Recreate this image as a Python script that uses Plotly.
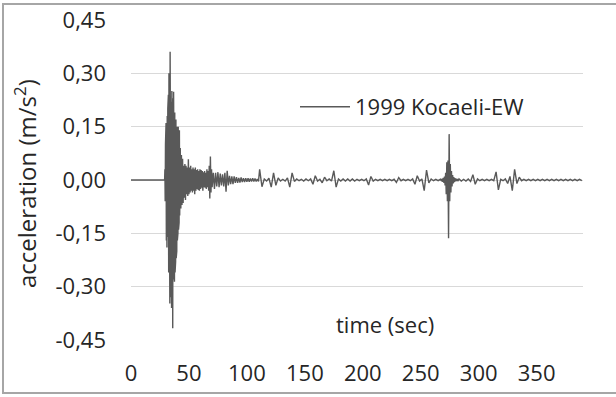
import numpy as np
import plotly.graph_objects as go

# ---------------- data ----------------
series_name = "1999 Kocaeli-EW"

# quiet pre-event record
t_pre = [0.0, 29.0]
a_pre = [0.0, 0.0]

# strong motion, dt = 0.25 s starting at 29.25 s
t0_strong, dt_strong = 29.25, 0.25
a_strong = [0.03, -0.06, 0.10, -0.14, 0.16, -0.17, 0.14, -0.19, 0.18, -0.16,
            0.20, -0.22, 0.24, -0.26, 0.30, -0.28, 0.26, -0.347, 0.361, -0.30,
            0.27, -0.33, 0.22, -0.36, 0.25, -0.30, 0.21, -0.417, 0.23, -0.28,
            0.248, -0.26, 0.20, -0.286, 0.19, -0.26, 0.19, -0.23, 0.17, -0.22,
            0.16, -0.20, 0.15, -0.17, 0.14, -0.15, 0.15, -0.14, 0.13, -0.12,
            0.14, -0.10]

# coda, dt = 0.5 s starting at 42.5 s
t0_coda, dt_coda = 42.5, 0.5
a_coda = [0.09, -0.08, 0.07, -0.07, 0.06, -0.065, 0.04, -0.05, 0.045, -0.056,
          0.04, -0.04, 0.035, -0.045, 0.058, -0.04, 0.035, -0.035, 0.04, -0.03,
          0.03, -0.035, 0.035, -0.03, 0.03, -0.04, 0.035, -0.03, 0.028, -0.025,
          0.03, -0.028, 0.025, -0.03, 0.03, -0.025, 0.028, -0.022, 0.025, -0.03,
          0.022, -0.02, 0.025, -0.022, 0.02, -0.025, 0.03, -0.02, 0.025, -0.03,
          0.04, -0.052, 0.066, -0.035, 0.03, -0.02]

# late coda, dt = 1 s starting at 71 s
t0_late, dt_late = 71.0, 1.0
a_late = [0.02, -0.025, 0.02, -0.018, 0.022, -0.02, 0.018, -0.015, 0.016, -0.018,
          0.02, -0.033, 0.026, -0.015, 0.012, -0.012, 0.01, -0.012, 0.01, -0.008,
          0.008, -0.008, 0.006, -0.007, 0.007, -0.006, 0.005, -0.006, 0.005, -0.005,
          0.005, -0.005, 0.004, -0.004, 0.005, -0.004, 0.004, -0.004, 0.003, -0.004]

# aftershock section 1, dt = 2 s starting at 111 s
t0_after1, dt_after1 = 111.0, 2.0
a_after1 = [0.03, -0.019, 0.003, -0.003, 0.005, -0.02, 0.02, -0.015, 0.006, -0.003,
            0.002, -0.003, 0.006, -0.02, 0.02, -0.004, 0.003, -0.002, 0.002, -0.003,
            0.003, -0.002, 0.003, -0.012, 0.012, -0.003, 0.002, -0.008, 0.008, -0.002,
            0.003, -0.003, 0.026, -0.02, 0.003, -0.003, 0.003, -0.003, 0.003, -0.003,
            0.003, -0.003, 0.002, -0.002, 0.002, -0.002, 0.003, -0.014, 0.01, -0.003,
            0.002, -0.002, 0.002, -0.002, 0.002, -0.002, 0.002, -0.002, 0.002, -0.007,
            0.007, -0.002, 0.002, -0.002, 0.002, -0.002, 0.003, -0.012, 0.012, -0.003,
            0.003, -0.03, 0.028, -0.008, 0.003, -0.002, 0.002, -0.002, 0.002]

# aftershock at ~274 s, dt = 0.5 s starting at 268 s
t0_shock, dt_shock = 268.0, 0.5
a_shock = [-0.003, 0.004, -0.005, 0.006, -0.008, 0.01, -0.015, 0.02, -0.04, 0.05,
           -0.06, 0.055, -0.164, 0.129, -0.06, 0.045, -0.035, 0.025, -0.018, 0.014,
           -0.01, 0.008, -0.006, 0.005, -0.004, 0.004, -0.003, 0.003, -0.003]

# aftershock section 2, dt = 2 s starting at 283 s
t0_after2, dt_after2 = 283.0, 2.0
a_after2 = [0.003, -0.003, 0.002, -0.003, 0.003, -0.004, 0.015, -0.012, 0.003, -0.002,
            0.002, -0.002, 0.002, -0.002, 0.002, -0.002, 0.023, -0.028, 0.002, -0.002,
            0.003, -0.01, 0.01, -0.03, 0.03, -0.01, 0.008, -0.002, 0.002, -0.002,
            0.002, -0.002, 0.002, -0.002, 0.002, -0.002, 0.002, -0.002, 0.002, -0.002,
            0.002, -0.002, 0.002, -0.002, 0.002, -0.002, 0.002, -0.002, 0.002, -0.002,
            0.002, -0.002, 0.002, -0.002]

x_tick_vals = [0, 50, 100, 150, 200, 250, 300, 350]
x_tick_text = ["0", "50", "100", "150", "200", "250", "300", "350"]
y_tick_vals = [-0.45, -0.30, -0.15, 0.0, 0.15, 0.30, 0.45]
y_tick_text = ["-0,45", "-0,30", "-0,15", "0,00", "0,15", "0,30", "0,45"]

# ---------------- assemble the record ----------------
def seg(t0, dt, vals):
    return [t0 + dt * i for i in range(len(vals))], list(vals)

parts = [(t_pre, a_pre),
         seg(t0_strong, dt_strong, a_strong),
         seg(t0_coda, dt_coda, a_coda),
         seg(t0_late, dt_late, a_late),
         seg(t0_after1, dt_after1, a_after1),
         seg(t0_shock, dt_shock, a_shock),
         seg(t0_after2, dt_after2, a_after2)]
t_all, a_all = [], []
for tt, aa in parts:
    t_all += list(tt)
    a_all += list(aa)

# ---------------- figure ----------------
FONT = "Open Sans"
TXT = "#262626"
W, H = 616, 397
L, R, T, B = 131, 33, 20, 57
PW, PH = W - L - R, H - T - B

def px(x):
    return (x - L) / PW

def py(y):
    return (H - B - y) / PH

fig = go.Figure()
fig.add_trace(go.Scatter(x=t_all, y=a_all, mode="lines", name=series_name,
                         line=dict(color="#595959", width=1.4)))

fig.update_layout(
    width=W, height=H,
    margin=dict(l=L, r=R, t=T, b=B, autoexpand=False),
    paper_bgcolor="white", plot_bgcolor="white",
    font=dict(family=FONT, size=22, color=TXT),
    showlegend=True,
    legend=dict(x=px(295), y=py(107), xanchor="left", yanchor="middle",
                bgcolor="rgba(0,0,0,0)", font=dict(size=22, color=TXT),
                itemwidth=50),
    xaxis=dict(range=[0, 390], tickvals=x_tick_vals, ticktext=x_tick_text,
               showgrid=False, zeroline=False, showline=False, ticks="",
               automargin=False,
               ticklabelstandoff=18, tickfont=dict(size=22, color=TXT)),
    yaxis=dict(range=[-0.45, 0.45], tickvals=y_tick_vals, ticktext=y_tick_text,
               showgrid=True, gridcolor="#d9d9d9", gridwidth=1,
               zeroline=False, showline=False, ticks="", automargin=False,
               ticklabelstandoff=24, tickfont=dict(size=22, color=TXT)),
    shapes=[
        # legend background box (hides gridlines)
        dict(type="rect", xref="paper", yref="paper", layer="between",
             x0=px(255), x1=px(570), y0=py(133), y1=py(80),
             fillcolor="white", line=dict(width=0)),
        # chart border
        dict(type="rect", xref="paper", yref="paper", layer="above",
             x0=px(3), x1=px(622), y0=py(393), y1=py(4),
             line=dict(color="#a6a6a6", width=2), fillcolor="rgba(0,0,0,0)"),
    ],
    annotations=[
        dict(text="acceleration (m/s<sup>2</sup>)", xref="paper", yref="paper",
             x=px(25), y=py(184), xanchor="center", yanchor="middle",
             textangle=-90, showarrow=False, font=dict(size=24, color=TXT)),
        dict(text="time (sec)", xref="paper", yref="paper",
             x=px(385), y=py(324), xanchor="center", yanchor="middle",
             showarrow=False, font=dict(size=22, color=TXT)),
    ],
)

fig.write_html("out.html")
